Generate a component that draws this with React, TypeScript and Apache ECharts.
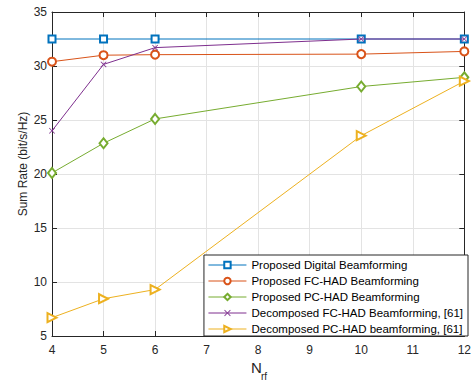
import React, { useEffect, useRef } from "react";
import * as echarts from "echarts";

const nrf = [4, 5, 6, 10, 12];
const digital = [32.5, 32.5, 32.5, 32.5, 32.5];
const fcHad = [30.4, 31.0, 31.05, 31.1, 31.35];
const pcHad = [20.1, 22.85, 25.1, 28.1, 28.95];
const decFc = [24.0, 30.15, 31.7, 32.5, 32.5];
const decPc = [6.7, 8.45, 9.3, 23.55, 28.6];

const seriesNames = [
  "Proposed Digital Beamforming",
  "Proposed FC-HAD Beamforming",
  "Proposed PC-HAD Beamforming",
  "Decomposed FC-HAD Beamforming, [61]",
  "Decomposed PC-HAD beamforming, [61]",
];
const colors = ["#0072BD", "#D95319", "#77AC30", "#7E2F8E", "#EDB120"];
const seriesValues = [digital, fcHad, pcHad, decFc, decPc];

const xMin = 4, xMax = 12, xInterval = 1;
const yMin = 5, yMax = 35, yInterval = 5;

const yName = "Sum Rate (bit/s/Hz)";
const xNameMain = "N";
const xNameSub = "rf";

const FONT = "'Liberation Sans', Arial, Helvetica, sans-serif";
const AXIS_COLOR = "#262626";

const crossPath =
  "path://M0,0.9L0.9,0L5,4.1L9.1,0L10,0.9L5.9,5L10,9.1L9.1,10L5,5.9L0.9,10L0,9.1L4.1,5Z";

const symbols: any[] = [
  { symbol: "emptyRect", symbolSize: 7, symbolRotate: 0 },
  { symbol: "emptyCircle", symbolSize: 8, symbolRotate: 0 },
  { symbol: "emptyDiamond", symbolSize: [8, 10], symbolRotate: 0 },
  { symbol: crossPath, symbolSize: 6, symbolRotate: 0 },
  { symbol: "emptyTriangle", symbolSize: 9, symbolRotate: -90 },
];

export default function App() {
  const ref = useRef<HTMLDivElement>(null);
  useEffect(() => {
    if (!ref.current) return;
    const chart = echarts.init(ref.current, undefined, { renderer: "svg" });
    const grid = { left: 52, right: 6, top: 12, bottom: 46 };
    const baseAxis = {
      axisLine: { show: true, lineStyle: { color: AXIS_COLOR, width: 1 } },
      axisTick: { show: true, inside: true, length: 5, lineStyle: { color: AXIS_COLOR } },
    };
    const series = seriesValues.map((vals, i) => ({
      name: seriesNames[i],
      type: "line",
      data: nrf.map((x, j) => [x, vals[j]]),
      symbol: symbols[i].symbol,
      symbolSize: symbols[i].symbolSize,
      symbolRotate: symbols[i].symbolRotate,
      showAllSymbol: true,
      lineStyle: { color: colors[i], width: 1 },
      itemStyle:
        i === 3
          ? { color: colors[i] }
          : { color: colors[i], borderColor: colors[i], borderWidth: 1 },
      emphasis: { disabled: true },
      z: 2 + i,
    }));
    chart.setOption({
      animation: false,
      backgroundColor: "#fff",
      grid,
      color: colors,
      xAxis: [
        {
          type: "value",
          min: xMin,
          max: xMax,
          interval: xInterval,
          position: "bottom",
          ...baseAxis,
          axisLabel: { color: AXIS_COLOR, fontSize: 12, fontFamily: FONT, margin: 8 },
          splitLine: { show: true, lineStyle: { color: "#e3e3e3", width: 1 } },
        },
        {
          type: "value",
          min: xMin,
          max: xMax,
          interval: xInterval,
          position: "top",
          ...baseAxis,
          axisLabel: { show: false },
          splitLine: { show: false },
        },
      ],
      yAxis: [
        {
          type: "value",
          min: yMin,
          max: yMax,
          interval: yInterval,
          position: "left",
          ...baseAxis,
          axisLabel: { color: AXIS_COLOR, fontSize: 12, fontFamily: FONT, margin: 5 },
          splitLine: { show: true, lineStyle: { color: "#e3e3e3", width: 1 } },
        },
        {
          type: "value",
          min: yMin,
          max: yMax,
          interval: yInterval,
          position: "right",
          ...baseAxis,
          axisLabel: { show: false },
          splitLine: { show: false },
        },
      ],
      legend: {
        orient: "vertical",
        right: 6,
        bottom: 46,
        backgroundColor: "#fff",
        borderColor: AXIS_COLOR,
        borderWidth: 1,
        borderRadius: 0,
        padding: [4, 5, 1, 4],
        itemWidth: 38,
        itemHeight: 8,
        itemGap: 4,
        lineStyle: { width: 1 },
        itemStyle: { borderWidth: 1 },
        textStyle: { fontSize: 11.5, fontFamily: FONT, color: "#000" },
        data: seriesNames,
        z: 20,
      },
      graphic: [
        {
          type: "text",
          x: 23,
          y: 164,
          rotation: Math.PI / 2,
          style: {
            text: yName,
            font: `12px ${FONT}`,
            fill: AXIS_COLOR,
            align: "center",
            verticalAlign: "middle",
          },
        },
        {
          type: "text",
          x: 251,
          y: 360,
          style: { text: xNameMain, font: `15px ${FONT}`, fill: AXIS_COLOR, align: "left", verticalAlign: "top" },
        },
        {
          type: "text",
          x: 261,
          y: 371,
          style: { text: xNameSub, font: `10px ${FONT}`, fill: AXIS_COLOR, align: "left", verticalAlign: "top" },
        },
      ],
      series,
    });
    return () => chart.dispose();
  }, []);
  return (
    <div
      ref={ref}
      style={{ position: "fixed", left: 0, top: 0, width: 474, height: 382 }}
    />
  );
}
